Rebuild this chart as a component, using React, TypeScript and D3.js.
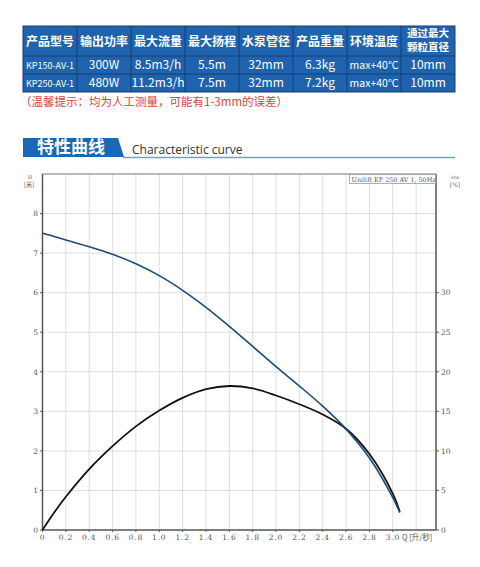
import React from "react";
import * as d3 from "d3";

const tableHeaders = ["产品型号", "输出功率", "最大流量", "最大扬程", "水泵管径", "产品重量", "环境温度", "通过最大|颗粒直径"];
const tableRows = [
  ["KP150-AV-1", "300W", "8.5m3/h", "5.5m", "32mm", "6.3kg", "max+40°C", "10mm"],
  ["KP250-AV-1", "480W", "11.2m3/h", "7.5m", "32mm", "7.2kg", "max+40°C", "10mm"],
];
const noteText = "（温馨提示：均为人工测量，可能有1-3mm的误差）";
const titleCn = "特性曲线";
const titleEn = "Characteristic curve";
const legendText = "Unilift KP 250 AV 1, 50Hz";

const flowQ = [0, 0.1, 0.2, 0.4, 0.6, 0.8, 1.0, 1.2, 1.4, 1.6, 1.8, 2.0, 2.2, 2.4, 2.6, 2.8, 3.0, 3.06];
const headH = [7.5, 7.42, 7.33, 7.16, 6.97, 6.73, 6.43, 6.06, 5.63, 5.15, 4.64, 4.13, 3.64, 3.13, 2.55, 1.82, 0.82, 0.44];
const effEta = [0, 2.2, 4.2, 7.7, 10.6, 13.1, 15.1, 16.7, 17.8, 18.2, 17.9, 17.0, 15.9, 14.6, 12.8, 9.6, 4.6, 2.3];

const xTicks = [0, 0.2, 0.4, 0.6, 0.8, 1.0, 1.2, 1.4, 1.6, 1.8, 2.0, 2.2, 2.4, 2.6, 2.8, 3.0];
const xGrid = [0.2, 0.4, 0.6, 0.8, 1.0, 1.2, 1.4, 1.6, 1.8, 2.0, 2.2, 2.4, 2.6, 2.8, 3.0, 3.2];
const hTicks = [0, 1, 2, 3, 4, 5, 6, 7, 8];
const etaTicks = [0, 5, 10, 15, 20, 25, 30];

const CJK = "'Noto Sans CJK SC', 'Noto Sans', sans-serif";
const SERIF = "'DejaVu Serif', 'Liberation Serif', serif";

export default function App() {
  const x = d3.scaleLinear().domain([0, 3.37]).range([42.5, 436]);
  const y = d3.scaleLinear().domain([0, 9]).range([530, 174]);
  const yEta = d3.scaleLinear().domain([0, 45]).range([530, 174]);

  const hLine = d3
    .line<number>()
    .x((_, i) => x(flowQ[i]))
    .y((d) => y(d))
    .curve(d3.curveCatmullRom.alpha(0.5));
  const etaLine = d3
    .line<number>()
    .x((_, i) => x(flowQ[i]))
    .y((d) => yEta(d))
    .curve(d3.curveCatmullRom.alpha(0.5));

  const colX = d3.scaleBand<number>().domain(d3.range(8)).range([23, 455]).padding(0);
  const tblBlue = "#1f63ae";
  const tblLine = "#163f70";

  const fmt = (v: number) => (v === 0 ? "0" : v.toFixed(1));

  return (
    <svg width={480} height={567} style={{ display: "block", position: "absolute", left: 0, top: 0, background: "#fff" }}>
      <rect x={0} y={0} width={480} height={567} fill="#fff" />
      {/* table */}
      <rect x={23} y={26} width={432} height={66} fill={tblBlue} stroke={tblLine} strokeWidth={1} />
      <line x1={23} x2={455} y1={56} y2={56} stroke={tblLine} strokeWidth={1} />
      <line x1={23} x2={455} y1={74} y2={74} stroke={tblLine} strokeWidth={1} />
      {d3.range(1, 8).map((i) => (
        <line key={i} x1={colX(i)!} x2={colX(i)!} y1={26} y2={92} stroke={tblLine} strokeWidth={1} />
      ))}
      {tableHeaders.map((h, i) => {
        const cx = colX(i)! + colX.bandwidth() / 2;
        const parts = h.split("|");
        if (parts.length === 1) {
          return (
            <text key={i} x={cx} y={45.5} textAnchor="middle" fill="#fff" fontFamily={CJK} fontWeight="bold" fontSize={12}>
              {h}
            </text>
          );
        }
        return (
          <g key={i}>
            <text x={cx} y={36.5} textAnchor="middle" fill="#fff" fontFamily={CJK} fontWeight="bold" fontSize={10.5}>
              {parts[0]}
            </text>
            <text x={cx} y={50.5} textAnchor="middle" fill="#fff" fontFamily={CJK} fontWeight="bold" fontSize={10.5}>
              {parts[1]}
            </text>
          </g>
        );
      })}
      {tableRows.map((row, r) =>
        row.map((c, i) => (
          <text
            key={r + "-" + i}
            x={colX(i)! + colX.bandwidth() / 2}
            y={r === 0 ? 69 : 87}
            textAnchor="middle"
            fill="#fff"
            fontFamily={CJK}
            fontSize={i === 0 ? 9 : i === 6 ? 10.5 : 12}
          >
            {c}
          </text>
        ))
      )}
      <text x={20} y={106} fill="#d8453c" fontFamily={CJK} fontSize={11.5}>
        {noteText}
      </text>

      {/* title */}
      <polygon points="23,138 118,138 124,157 23,157" fill="#1769b8" />
      <line x1={123} x2={455} y1={157.5} y2={157.5} stroke="#7d9fb7" strokeWidth={1.5} />
      <text x={71} y={153} textAnchor="middle" fill="#fff" fontFamily={CJK} fontWeight="bold" fontSize={17}>
        {titleCn}
      </text>
      <text x={132} y={154} fill="#333" fontFamily="'Open Sans', 'Noto Sans', sans-serif" fontSize={12}>
        {titleEn}
      </text>

      {/* grid */}
      {xGrid.map((g) => (
        <line key={"vx" + g} x1={x(g)} x2={x(g)} y1={174} y2={530} stroke="#dedede" strokeWidth={1} />
      ))}
      {hTicks.slice(1).map((g) => (
        <line key={"hy" + g} x1={42.5} x2={436} y1={y(g)} y2={y(g)} stroke="#dedede" strokeWidth={1} />
      ))}
      {/* frame */}
      <line x1={42.5} x2={436} y1={174} y2={174} stroke="#777" strokeWidth={1.2} />
      <line x1={436} x2={436} y1={174} y2={530} stroke="#555" strokeWidth={1.5} />
      <line x1={42.5} x2={42.5} y1={174} y2={530} stroke="#555" strokeWidth={1.5} />
      <line x1={42.5} x2={436} y1={530} y2={530} stroke="#555" strokeWidth={1.5} />

      {/* left ticks */}
      {hTicks.map((t) => (
        <g key={"lt" + t}>
          <line x1={40} x2={42.5} y1={y(t)} y2={y(t)} stroke="#555" />
          <text x={38} y={y(t) + 2.8} textAnchor="end" fill="#555" fontFamily={SERIF} fontSize={7.5}>
            {t}
          </text>
        </g>
      ))}
      <text x={30} y={178.5} textAnchor="middle" fill="#666" fontFamily={SERIF} fontSize={5}>H</text>
      <text x={29} y={187} textAnchor="middle" fill="#666" fontFamily={CJK} fontSize={6.5}>[米]</text>

      {/* right ticks */}
      {etaTicks.map((t) => (
        <g key={"rt" + t}>
          <line x1={436} x2={439} y1={yEta(t)} y2={yEta(t)} stroke="#555" />
          <text x={441} y={yEta(t) + 2.8} fill="#555" fontFamily={SERIF} fontSize={7.5}>
            {t}
          </text>
        </g>
      ))}
      <text x={455} y={179} textAnchor="middle" fill="#666" fontFamily={SERIF} fontSize={5}>eta</text>
      <text x={455} y={187} textAnchor="middle" fill="#666" fontFamily={SERIF} fontSize={6}>[%]</text>

      {/* bottom ticks */}
      {xTicks.map((t) => (
        <g key={"bt" + t}>
          <line x1={x(t)} x2={x(t)} y1={530} y2={532} stroke="#555" />
          <text x={x(t)} y={539.5} textAnchor="middle" fill="#555" fontFamily={SERIF} fontSize={7.5} letterSpacing={0.8}>
            {fmt(t)}
          </text>
        </g>
      ))}
      <text x={402} y={539.5} fill="#555" fontFamily={CJK} fontSize={7.5}>
        Q [升/秒]
      </text>

      {/* legend box */}
      <rect x={349.5} y={174.5} width={86} height={9} fill="#fff" stroke="#999" strokeWidth={0.8} />
      <text x={351.5} y={181.5} fill="#555" fontFamily={SERIF} fontSize={6.4}>
        {legendText}
      </text>

      {/* curves */}
      <path d={etaLine(effEta) || ""} fill="none" stroke="#111" strokeWidth={1.8} />
      <path d={hLine(headH) || ""} fill="none" stroke="#1b4c78" strokeWidth={1.6} />
    </svg>
  );
}
